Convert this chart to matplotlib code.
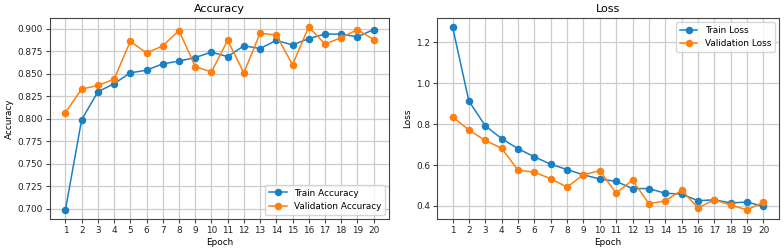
import matplotlib
matplotlib.use("Agg")
import matplotlib.pyplot as plt

epochs = list(range(1, 21))

train_acc = [0.699, 0.799, 0.830, 0.839, 0.851, 0.854, 0.861, 0.864, 0.868, 0.874,
             0.869, 0.881, 0.878, 0.887, 0.882, 0.889, 0.894, 0.894, 0.891, 0.899]
val_acc = [0.807, 0.833, 0.837, 0.844, 0.886, 0.873, 0.881, 0.898, 0.858, 0.852,
           0.887, 0.851, 0.895, 0.893, 0.860, 0.902, 0.883, 0.890, 0.899, 0.888]

train_loss = [1.275, 0.912, 0.792, 0.729, 0.680, 0.640, 0.604, 0.578, 0.552, 0.532,
              0.520, 0.485, 0.485, 0.462, 0.458, 0.426, 0.430, 0.415, 0.419, 0.398]
val_loss = [0.836, 0.771, 0.720, 0.682, 0.575, 0.565, 0.533, 0.492, 0.553, 0.572,
            0.463, 0.526, 0.411, 0.425, 0.477, 0.391, 0.430, 0.404, 0.381, 0.418]

blue = "#1a80c4"
orange = "#ff7f0e"

plt.rcParams["font.size"] = 6.4
plt.rcParams["axes.edgecolor"] = "#444444"
plt.rcParams["xtick.color"] = "#444444"
plt.rcParams["ytick.color"] = "#444444"
plt.rcParams["xtick.labelcolor"] = "#222222"
plt.rcParams["ytick.labelcolor"] = "#222222"

fig = plt.figure(figsize=(7.84, 2.5), dpi=100)
ax1 = fig.add_axes([0.0638, 0.124, 0.4324, 0.805])
ax2 = fig.add_axes([0.5574, 0.124, 0.4362, 0.805])


def draw(ax, train, val, title, names, loc):
    ax.plot(epochs, train, marker="o", color=blue, lw=1.1, ms=4.4, label=names[0])
    ax.plot(epochs, val, marker="o", color=orange, lw=1.1, ms=4.4, label=names[1])
    ax.set_title(title, fontsize=8, pad=4)
    ax.set_xlabel("Epoch", labelpad=2)
    ax.set_ylabel(title, labelpad=3)
    ax.set_xticks(epochs)
    ax.tick_params(length=3, pad=2)
    ax.grid(True, color="#cccccc", lw=0.9)
    ax.legend(loc=loc)


draw(ax1, train_acc, val_acc, "Accuracy", ["Train Accuracy", "Validation Accuracy"], "lower right")
draw(ax2, train_loss, val_loss, "Loss", ["Train Loss", "Validation Loss"], "upper right")

fig.savefig("out.png", dpi=100)
